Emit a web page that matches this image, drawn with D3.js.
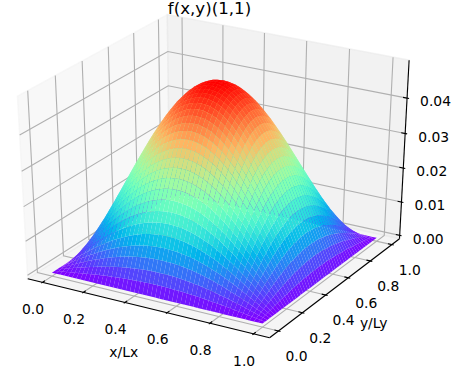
<!DOCTYPE html>
<html>
<head>
<meta charset="utf-8">
<script src="https://cdn.jsdelivr.net/npm/d3@7"></script>
<style>
html, body { margin: 0; padding: 0; background: #fff; }
svg { display: block; }
text { font-family: "DejaVu Sans"; fill: #000; }
</style>
</head>
<body>
<div id="chart"></div>
<script>
const xTicks = [0, 0.2, 0.4, 0.6, 0.8, 1]
const yTicks = [0, 0.2, 0.4, 0.6, 0.8, 1]
const zTicks = [0, 0.01, 0.02, 0.03, 0.04]
const xLim = [-0.05, 1.05]
const yLim = [-0.05, 1.05]
const zLim = [0, 0.0495]

// sample positions along x and along y
const gridPos = [0, 0.02, 0.04, 0.06, 0.08, 0.1, 0.12, 0.14, 0.16, 0.18, 0.2, 0.22, 0.24, 0.26, 0.28, 0.3, 0.32, 0.34, 0.36, 0.38, 0.4, 0.42, 0.44, 0.46, 0.48, 0.5,
  0.52, 0.54, 0.56, 0.58, 0.6, 0.62, 0.64, 0.66, 0.68, 0.7, 0.72, 0.74, 0.76, 0.78, 0.8, 0.82, 0.84, 0.86, 0.88, 0.9, 0.92, 0.94, 0.96, 0.98, 1]

// surface height, in units of 1e-5. The surface looks symmetric about x=0.5 and y=0.5,
// so only the quarter x<=0.5, y<=0.5 is listed and the rest is mirrored below
const zUnit = 1e-5
const zQuarter = [
  [0,0,0,0,0,0,0,0,0,0,0,0,0,0,0,0,0,0,0,0,0,0,0,0,0,0],
  [0,20,39,58,77,96,114,132,150,167,183,198,213,227,240,252,263,273,281,289,296,301,305,309,310,311],
  [0,39,78,116,154,192,228,264,299,332,364,395,424,452,478,502,523,543,561,576,590,601,609,615,619,620],
  [0,58,116,174,231,287,342,395,447,497,545,592,635,677,715,751,784,813,840,863,883,899,912,921,926,928],
  [0,77,154,231,306,380,453,524,593,660,724,785,843,897,948,996,1039,1079,1114,1145,1171,1192,1209,1221,1229,1231],
  [0,96,192,287,380,473,563,651,737,820,899,975,1047,1115,1179,1238,1292,1341,1384,1423,1455,1482,1503,1518,1527,1530],
  [0,114,228,342,453,563,671,776,878,976,1071,1161,1247,1328,1404,1474,1538,1597,1649,1694,1733,1765,1790,1808,1818,1822],
  [0,132,264,395,524,651,776,898,1016,1129,1239,1344,1443,1537,1624,1705,1780,1847,1907,1960,2005,2042,2071,2091,2104,2108],
  [0,150,299,447,593,737,878,1016,1149,1278,1402,1520,1633,1739,1838,1929,2014,2090,2158,2218,2268,2310,2343,2366,2380,2385],
  [0,167,332,497,660,820,976,1129,1278,1421,1559,1690,1815,1933,2043,2145,2239,2324,2400,2466,2522,2569,2605,2631,2647,2652],
  [0,183,364,545,724,899,1071,1239,1402,1559,1711,1855,1992,2121,2242,2354,2457,2550,2633,2706,2768,2819,2859,2887,2904,2910],
  [0,198,395,592,785,975,1161,1344,1520,1690,1855,2011,2160,2300,2431,2552,2664,2765,2855,2933,3001,3056,3099,3130,3149,3155],
  [0,213,424,635,843,1047,1247,1443,1633,1815,1992,2160,2319,2470,2610,2741,2860,2969,3065,3150,3222,3282,3328,3361,3381,3388],
  [0,227,452,677,897,1115,1328,1537,1739,1933,2121,2300,2470,2631,2781,2920,3047,3163,3265,3356,3432,3496,3545,3580,3602,3609],
  [0,240,478,715,948,1179,1404,1624,1838,2043,2242,2431,2610,2781,2939,3086,3220,3342,3451,3546,3627,3694,3747,3784,3806,3814],
  [0,252,502,751,996,1238,1474,1705,1929,2145,2354,2552,2741,2920,3086,3240,3381,3510,3624,3724,3809,3879,3934,3973,3997,4005],
  [0,263,523,784,1039,1292,1538,1780,2014,2239,2457,2664,2860,3047,3220,3381,3528,3662,3781,3886,3975,4048,4105,4146,4171,4179],
  [0,273,543,813,1079,1341,1597,1847,2090,2324,2550,2765,2969,3163,3342,3510,3662,3801,3925,4033,4126,4202,4261,4304,4329,4338],
  [0,281,561,840,1114,1384,1649,1907,2158,2400,2633,2855,3065,3265,3451,3624,3781,3925,4053,4165,4260,4338,4400,4444,4470,4479],
  [0,289,576,863,1145,1423,1694,1960,2218,2466,2706,2933,3150,3356,3546,3724,3886,4033,4165,4280,4378,4459,4522,4567,4594,4603],
  [0,296,590,883,1171,1455,1733,2005,2268,2522,2768,3001,3222,3432,3627,3809,3975,4126,4260,4378,4478,4560,4625,4671,4699,4708],
  [0,301,601,899,1192,1482,1765,2042,2310,2569,2819,3056,3282,3496,3694,3879,4048,4202,4338,4459,4560,4644,4710,4757,4785,4795],
  [0,305,609,912,1209,1503,1790,2071,2343,2605,2859,3099,3328,3545,3747,3934,4105,4261,4400,4522,4625,4710,4776,4824,4852,4862],
  [0,309,615,921,1221,1518,1808,2091,2366,2631,2887,3130,3361,3580,3784,3973,4146,4304,4444,4567,4671,4757,4824,4872,4901,4911],
  [0,310,619,926,1229,1527,1818,2104,2380,2647,2904,3149,3381,3602,3806,3997,4171,4329,4470,4594,4699,4785,4852,4901,4930,4940],
  [0,311,620,928,1231,1530,1822,2108,2385,2652,2910,3155,3388,3609,3814,4005,4179,4338,4479,4603,4708,4795,4862,4911,4940,4950]
]

const width = 454, height = 368

const svg = d3.select("#chart")
.append("svg")
.attr("width", width)
.attr("height", height)

// ----------------- //
// Projection
// ----------------- //
const elev = 30 * Math.PI / 180, azim = -60 * Math.PI / 180, dist = 10

const n = [Math.cos(elev) * Math.cos(azim), Math.cos(elev) * Math.sin(azim), Math.sin(elev)]
const r = [-Math.sin(azim), Math.cos(azim), 0]
const up = [n[1] * r[2] - n[2] * r[1], n[2] * r[0] - n[0] * r[2], n[0] * r[1] - n[1] * r[0]]

// data to unit cube
const xNorm = d3.scaleLinear().domain(xLim).range([0, 1])
const yNorm = d3.scaleLinear().domain(yLim).range([0, 1])
const zNorm = d3.scaleLinear().domain(zLim).range([0, 1])

// projected view plane to pixels
const xPx = d3.scaleLinear().domain([-1, 1]).range([216.6 - 268, 216.6 + 268])
const yPx = d3.scaleLinear().domain([-1, 1]).range([170.5 + 200, 170.5 - 200])

// takes unit cube coordinates, gives pixel coordinates and depth
function project(p) {
  const c = [p[0] - 0.5, p[1] - 0.5, p[2] - 0.5]
  const u = d3.sum(c, (v, i) => v * r[i])
  const v = d3.sum(c, (w, i) => w * up[i])
  const d = d3.sum(c, (w, i) => w * n[i])
  const f = dist / (dist - d)
  return { x: xPx(u * f), y: yPx(v * f), d: d }
}

const lineGen = d3.line().x(d => d.x).y(d => d.y)
const closedGen = d3.line().x(d => d.x).y(d => d.y).curve(d3.curveLinearClosed)

// panes stick out of the limits by 1/48 on each side
const lo = -1 / 48, hi = 1 + 1 / 48

// ----------------- //
// Panes
// ----------------- //
const panes = [
  { color: "rgba(242,242,242,0.5)", pts: [[lo, lo, lo], [lo, hi, lo], [lo, hi, hi], [lo, lo, hi]] },
  { color: "rgba(230,230,230,0.5)", pts: [[lo, hi, lo], [hi, hi, lo], [hi, hi, hi], [lo, hi, hi]] },
  { color: "rgba(236,236,236,0.5)", pts: [[lo, lo, lo], [hi, lo, lo], [hi, hi, lo], [lo, hi, lo]] }
]

svg.append("g")
.selectAll("path")
.data(panes)
.join("path")
  .attr("d", d => closedGen(d.pts.map(project)))
  .attr("fill", d => d.color)
  .attr("stroke", d => d.color)
  .attr("stroke-width", 1.39)

// ----------------- //
// Grid lines
// ----------------- //
const gridLines = []
xTicks.forEach(t => {
  const x = xNorm(t)
  gridLines.push([[x, lo, lo], [x, hi, lo], [x, hi, hi]])
})
yTicks.forEach(t => {
  const y = yNorm(t)
  gridLines.push([[hi, y, lo], [lo, y, lo], [lo, y, hi]])
})
zTicks.forEach(t => {
  const z = zNorm(t)
  gridLines.push([[lo, lo, z], [lo, hi, z], [hi, hi, z]])
})

svg.append("g")
.selectAll("path")
.data(gridLines)
.join("path")
  .attr("d", d => lineGen(d.map(project)))
  .attr("fill", "none")
  .attr("stroke", "#b0b0b0")
  .attr("stroke-width", 1.11)

// ----------------- //
// Axis lines and ticks
// ----------------- //
const axisLines = [
  [[lo, lo, lo], [hi, lo, lo]],
  [[hi, lo, lo], [hi, hi, lo]],
  [[hi, hi, lo], [hi, hi, hi]]
]
const tickOut = 0.1 / 12, tickIn = 0.2 / 12
const tickLines = []
xTicks.forEach(t => tickLines.push([[xNorm(t), lo + tickIn, lo], [xNorm(t), lo - tickOut, lo]]))
yTicks.forEach(t => tickLines.push([[hi - tickIn, yNorm(t), lo], [hi + tickOut, yNorm(t), lo]]))
zTicks.forEach(t => tickLines.push([[hi - tickIn, hi, zNorm(t)], [hi + tickOut, hi, zNorm(t)]]))

svg.append("g")
.selectAll("path")
.data(axisLines.concat(tickLines))
.join("path")
  .attr("d", d => lineGen(d.map(project)))
  .attr("fill", "none")
  .attr("stroke", "#000")
  .attr("stroke-width", 1.11)

// ----------------- //
// Surface
// ----------------- //
const zAt = (i, j) => zQuarter[i <= 25 ? i : 50 - i][j <= 25 ? j : 50 - j] * zUnit

const facets = []
for (let i = 0; i < gridPos.length - 1; i++) {
  for (let j = 0; j < gridPos.length - 1; j++) {
    const corners = [[i, j], [i + 1, j], [i + 1, j + 1], [i, j + 1]]
    const pts = corners.map(c => project([xNorm(gridPos[c[0]]), yNorm(gridPos[c[1]]), zNorm(zAt(c[0], c[1]))]))
    facets.push({
      pts: pts,
      depth: d3.mean(pts, p => p.d),
      level: d3.mean(corners, c => zAt(c[0], c[1]))
    })
  }
}
facets.sort((a, b) => a.depth - b.depth)

// same colours as the rainbow colormap
function rainbow(t) {
  const red = Math.abs(2 * t - 0.5), green = Math.sin(Math.PI * t), blue = Math.cos(Math.PI * t / 2)
  return d3.rgb(Math.min(red, 1) * 255, green * 255, blue * 255).formatRgb()
}
const color = d3.scaleSequential(rainbow).domain(d3.extent(facets, d => d.level))

svg.append("g")
.selectAll("path")
.data(facets)
.join("path")
  .attr("d", d => closedGen(d.pts))
  .attr("fill", d => color(d.level))

// ----------------- //
// Text
// ----------------- //
const labels = []
xTicks.forEach(t => {
  const p = project([xNorm(t), lo, lo])
  labels.push({ x: p.x - 9.4, y: p.y + 26.7, text: d3.format(".1f")(t) })
})
yTicks.forEach(t => {
  const p = project([hi, yNorm(t), lo])
  labels.push({ x: p.x + 18, y: p.y + 25, text: d3.format(".1f")(t) })
})
zTicks.forEach(t => {
  const p = project([hi, hi, zNorm(t)])
  labels.push({ x: p.x + 28.5, y: p.y + 3.2, text: d3.format(".2f")(t) })
})
labels.push({ x: 123.7, y: 351.7, text: "x/Lx" })
labels.push({ x: 373.7, y: 323, text: "y/Ly" })

svg.append("g")
.selectAll("text")
.data(labels)
.join("text")
  .attr("x", d => d.x)
  .attr("y", d => d.y)
  .attr("dy", "0.36em")
  .attr("text-anchor", "middle")
  .attr("font-size", 13.89)
  .text(d => d.text)

svg.append("text")
.attr("x", 209.5)
.attr("y", 14)
.attr("text-anchor", "middle")
.attr("font-size", 16.67)
.text("f(x,y)(1,1)")
</script>
</body>
</html>
